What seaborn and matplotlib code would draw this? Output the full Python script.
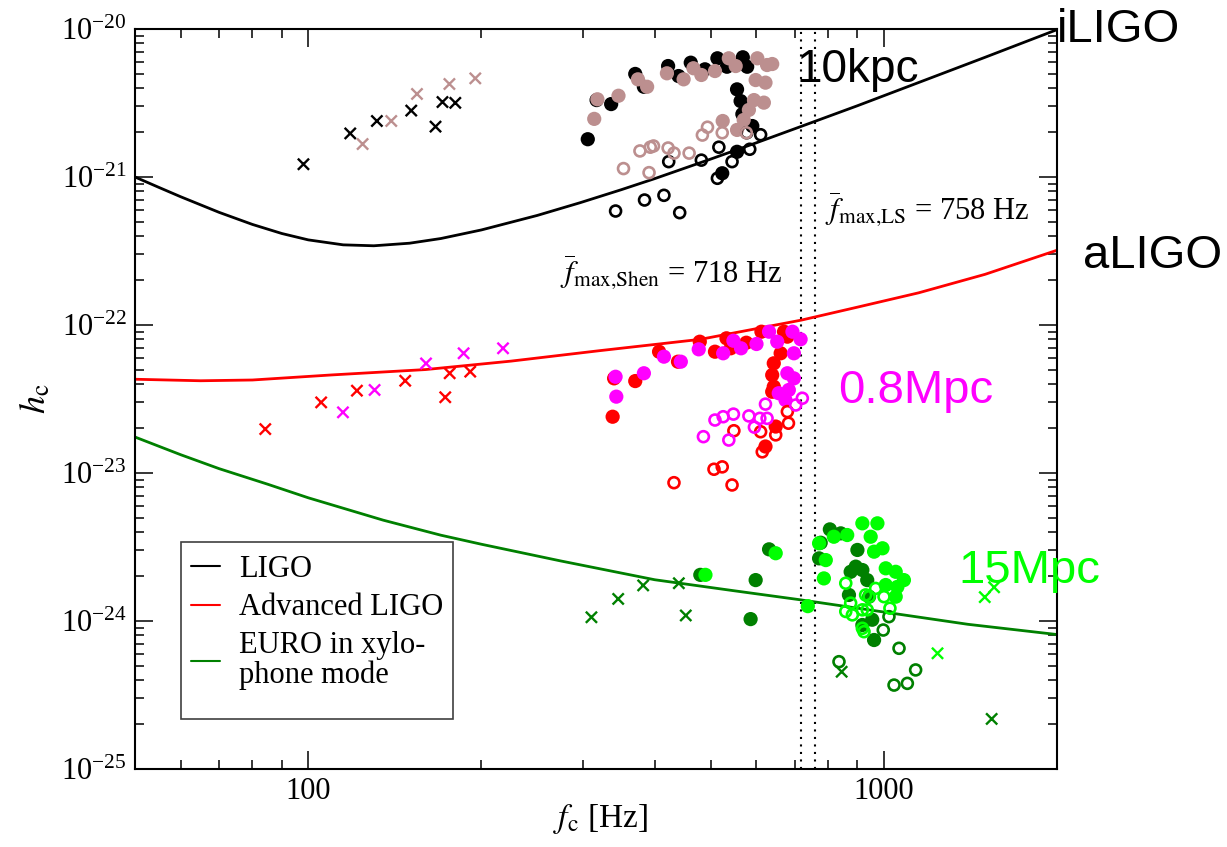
import matplotlib
matplotlib.use("Agg")
import matplotlib.pyplot as plt
from matplotlib.lines import Line2D
from matplotlib.patches import Rectangle
from matplotlib import ticker
import pandas as pd
import seaborn as sns

# ---------------------------------------------------------------------------
# Detector sensitivity curves: characteristic strain h_c versus frequency [Hz]
# ---------------------------------------------------------------------------
ligo_f = [50, 55, 60, 70, 80, 90, 100, 115, 130, 150, 170, 200, 250, 297, 350,
          400, 500, 600, 717, 900, 1150, 1500, 2000]
ligo_h = [1.0e-21, 8.51e-22, 7.36e-22, 5.77e-22, 4.78e-22, 4.15e-22, 3.76e-22,
          3.48e-22, 3.43e-22, 3.57e-22, 3.84e-22, 4.39e-22, 5.50e-22, 6.71e-22,
          8.21e-22, 9.75e-22, 1.32e-21, 1.70e-21, 2.19e-21, 3.03e-21, 4.35e-21,
          6.44e-21, 9.9e-21]

aligo_f = [50, 65, 80, 110, 160, 225, 320, 480, 720, 900, 1150, 1500, 2000]
aligo_h = [4.3e-23, 4.2e-23, 4.25e-23, 4.6e-23, 5.0e-23, 5.7e-23, 6.7e-23,
           8.0e-23, 1.08e-22, 1.32e-22, 1.65e-22, 2.2e-22, 3.2e-22]

euro_f = [50, 60, 70, 85, 100, 135, 170, 200, 274, 400, 550, 717, 1000, 1400, 2000]
euro_h = [1.75e-23, 1.33e-23, 1.07e-23, 8.4e-24, 6.8e-24, 4.8e-24, 3.8e-24, 3.3e-24,
          2.55e-24, 1.9e-24, 1.6e-24, 1.39e-24, 1.15e-24, 9.5e-25, 8.1e-25]

detector_labels = ["LIGO", "Advanced LIGO", "EURO in xylo-\nphone mode"]

# Maximum frequencies of the two equations of state
fmax_shen = 718
fmax_ls = 758

# ---------------------------------------------------------------------------
# Signals: (f_c [Hz], h_c) for two models (a, b) at three distances.
# "disk" = filled circles, "ring" = open circles, "cross" = crosses
# ---------------------------------------------------------------------------
k10_a_disk = [(306, 1.80e-21), (317, 3.31e-21), (336, 3.11e-21), (370, 4.97e-21),
              (383, 4.07e-21), (422, 5.62e-21), (440, 4.81e-21), (462, 5.92e-21),
              (489, 5.34e-21), (514, 6.34e-21), (534, 5.56e-21), (569, 6.44e-21),
              (579, 5.56e-21), (556, 3.91e-21), (564, 3.26e-21), (568, 2.66e-21),
              (591, 2.21e-21), (524, 1.06e-21), (556, 1.48e-21)]
k10_b_disk = [(314, 2.47e-21), (318, 3.35e-21), (346, 3.54e-21), (374, 4.57e-21),
              (388, 4.07e-21), (420, 5.02e-21), (449, 4.57e-21), (467, 5.43e-21),
              (482, 4.89e-21), (509, 5.20e-21), (538, 6.34e-21), (553, 5.62e-21),
              (603, 6.34e-21), (627, 5.71e-21), (599, 4.52e-21), (623, 4.34e-21),
              (595, 3.31e-21), (619, 3.18e-21), (583, 2.84e-21), (571, 2.43e-21),
              (556, 2.08e-21), (525, 2.39e-21), (640, 5.80e-21)]
k10_a_ring = [(342, 5.89e-22), (384, 6.99e-22), (415, 7.52e-22), (442, 5.74e-22),
              (423, 1.27e-21), (482, 1.30e-21), (517, 1.59e-21), (545, 1.27e-21),
              (514, 9.80e-22), (585, 1.54e-21), (611, 1.93e-21), (578, 1.99e-21)]
k10_b_ring = [(353, 1.14e-21), (377, 1.50e-21), (391, 1.07e-21), (393, 1.59e-21),
              (398, 1.62e-21), (422, 1.57e-21), (432, 1.45e-21), (459, 1.45e-21),
              (484, 1.92e-21), (494, 2.17e-21), (524, 1.99e-21), (577, 1.99e-21)]
k10_a_cross = [(98.1, 1.22e-21), (118.3, 1.97e-21), (131.6, 2.39e-21), (151.0, 2.81e-21),
               (166.4, 2.19e-21), (171.1, 3.21e-21), (180.1, 3.17e-21)]
k10_b_cross = [(124.3, 1.67e-21), (139.4, 2.39e-21), (154.5, 3.64e-21),
               (175.9, 4.25e-21), (195.1, 4.64e-21)]

m08_a_disk = [(338, 2.40e-23), (340, 4.36e-23), (370, 4.18e-23), (407, 6.60e-23),
              (439, 5.65e-23), (479, 7.71e-23), (509, 6.60e-23), (533, 8.13e-23),
              (542, 6.96e-23), (577, 7.59e-23), (613, 9.01e-23), (671, 9.01e-23),
              (644, 5.51e-23), (640, 4.59e-23), (644, 3.83e-23), (640, 3.54e-23),
              (662, 6.44e-23), (649, 2.06e-23), (623, 1.51e-23), (680, 8.34e-23)]
m08_b_disk = [(342, 4.47e-23), (343, 3.28e-23), (383, 4.72e-23), (415, 6.11e-23),
              (444, 5.65e-23), (477, 6.85e-23), (526, 6.44e-23), (548, 7.83e-23),
              (565, 6.96e-23), (601, 7.44e-23), (632, 9.01e-23), (653, 7.71e-23),
              (694, 9.01e-23), (698, 6.44e-23), (680, 4.72e-23), (698, 4.36e-23),
              (684, 3.64e-23), (657, 3.46e-23), (675, 3.11e-23), (717, 8.01e-23)]
m08_a_ring = [(432, 8.60e-24), (507, 1.06e-23), (524, 1.10e-23), (545, 8.30e-24),
              (549, 1.93e-23), (611, 1.90e-23), (649, 1.81e-23), (683, 2.17e-23),
              (680, 2.60e-23), (615, 1.39e-23)]
m08_b_ring = [(486, 1.76e-23), (509, 2.28e-23), (526, 2.40e-23), (548, 2.50e-23),
              (538, 1.67e-23), (583, 2.43e-23), (596, 2.04e-23), (609, 2.34e-23),
              (627, 2.34e-23), (623, 2.92e-23), (703, 2.88e-23), (722, 3.20e-23)]
m08_a_cross = [(84.2, 1.98e-23), (105.3, 3.0e-23), (121.5, 3.6e-23), (147.4, 4.2e-23),
               (173.0, 3.25e-23), (176.1, 4.72e-23), (191.2, 4.84e-23)]
m08_b_cross = [(114.9, 2.57e-23), (130.4, 3.64e-23), (160.2, 5.5e-23),
               (186.2, 6.44e-23), (218.0, 6.96e-23)]

m15_a_disk = [(587, 1.03e-24), (599, 1.89e-24), (632, 3.05e-24), (480, 2.05e-24),
              (772, 2.65e-24), (777, 3.38e-24), (806, 4.16e-24), (842, 3.91e-24),
              (900, 3.02e-24), (894, 2.33e-24), (876, 2.15e-24), (918, 2.21e-24),
              (936, 1.89e-24), (870, 1.50e-24), (943, 1.46e-24), (955, 1.02e-24),
              (962, 7.44e-25), (918, 9.40e-25)]
m15_b_disk = [(490, 2.05e-24), (649, 2.87e-24), (738, 1.26e-24), (787, 1.94e-24),
              (793, 2.58e-24), (772, 3.35e-24), (819, 3.71e-24), (864, 3.81e-24),
              (918, 4.57e-24), (975, 4.57e-24), (949, 3.71e-24), (995, 3.10e-24),
              (962, 2.94e-24), (1008, 2.27e-24), (1049, 2.15e-24), (1084, 1.89e-24),
              (1008, 1.75e-24), (1049, 1.46e-24), (1056, 1.70e-24)]
m15_a_ring = [(836, 5.31e-25), (998, 8.69e-25), (1063, 6.54e-25), (1136, 4.67e-25),
              (1099, 3.79e-25), (1042, 3.69e-25), (1021, 1.07e-24)]
m15_b_ring = [(859, 1.80e-24), (930, 1.50e-24), (943, 1.46e-24), (968, 1.66e-24),
              (1001, 1.46e-24), (1025, 1.22e-24), (859, 1.16e-24), (882, 1.10e-24),
              (876, 1.32e-24), (918, 1.19e-24), (936, 1.19e-24), (924, 8.47e-25),
              (918, 8.93e-25)]
m15_a_cross = [(310.5, 1.06e-24), (345.6, 1.41e-24), (381.9, 1.74e-24), (440.5, 1.80e-24),
               (452.9, 1.09e-24), (845, 4.54e-25), (1540, 2.18e-25)]
m15_b_cross = [(1240, 6.05e-25), (1498, 1.45e-24), (1555, 1.69e-24)]

series_colors = {
    "10kpc a": "#000000", "10kpc b": "#bc8f8f",
    "0.8Mpc a": "#ff0000", "0.8Mpc b": "#ff00ff",
    "15Mpc a": "#008000", "15Mpc b": "#00ff00",
}
groups = {
    ("10kpc a", "disk"): k10_a_disk, ("10kpc b", "disk"): k10_b_disk,
    ("10kpc a", "ring"): k10_a_ring, ("10kpc b", "ring"): k10_b_ring,
    ("10kpc a", "cross"): k10_a_cross, ("10kpc b", "cross"): k10_b_cross,
    ("0.8Mpc a", "disk"): m08_a_disk, ("0.8Mpc b", "disk"): m08_b_disk,
    ("0.8Mpc a", "ring"): m08_a_ring, ("0.8Mpc b", "ring"): m08_b_ring,
    ("0.8Mpc a", "cross"): m08_a_cross, ("0.8Mpc b", "cross"): m08_b_cross,
    ("15Mpc a", "disk"): m15_a_disk, ("15Mpc b", "disk"): m15_b_disk,
    ("15Mpc a", "ring"): m15_a_ring, ("15Mpc b", "ring"): m15_b_ring,
    ("15Mpc a", "cross"): m15_a_cross, ("15Mpc b", "cross"): m15_b_cross,
}

rows = []
for (series, kind), pts in groups.items():
    for f, h in pts:
        rows.append({"series": series, "kind": kind, "f": f, "h": h})
signals = pd.DataFrame(rows)

curves = pd.concat([
    pd.DataFrame({"detector": detector_labels[0], "f": ligo_f, "h": ligo_h}),
    pd.DataFrame({"detector": detector_labels[1], "f": aligo_f, "h": aligo_h}),
    pd.DataFrame({"detector": detector_labels[2], "f": euro_f, "h": euro_h}),
], ignore_index=True)
curve_colors = dict(zip(detector_labels, ["#000000", "#ff0000", "#008000"]))

# ---------------------------------------------------------------------------
# Style
# ---------------------------------------------------------------------------
sns.set_style("ticks")
plt.rcParams["font.family"] = ["Liberation Serif", "DejaVu Serif"]
plt.rcParams["mathtext.fontset"] = "stix"
plt.rcParams["axes.linewidth"] = 1.5
plt.rcParams["axes.edgecolor"] = "black"
plt.rcParams["text.color"] = "black"
plt.rcParams["axes.labelcolor"] = "black"
plt.rcParams["xtick.color"] = "black"
plt.rcParams["ytick.color"] = "black"

fig = plt.figure(figsize=(12.27, 8.47), dpi=100)
ax = fig.add_axes([135 / 1227, 1 - 769 / 847, 922 / 1227, 740 / 847])
ax.set_xscale("log")
ax.set_yscale("log")
ax.set_xlim(50, 2000)
ax.set_ylim(1e-25, 1e-20)

# sensitivity curves
sns.lineplot(data=curves, x="f", y="h", hue="detector", palette=curve_colors,
             sort=False, estimator=None, linewidth=2.0, legend=False, ax=ax, zorder=2)

# vertical markers of the maximum frequencies
for fm in (fmax_shen, fmax_ls):
    ax.axvline(fm, color="black", linestyle=(0, (1, 2.6)), linewidth=1.5, zorder=1)

# signal points: filled circles, then open circles, then crosses
disks = signals[signals["kind"] == "disk"]
sns.scatterplot(data=disks, x="f", y="h", hue="series", palette=series_colors,
                marker="o", s=105, linewidth=0, edgecolor="none", legend=False,
                ax=ax, zorder=3)
for series, color in series_colors.items():
    rings = signals[(signals["kind"] == "ring") & (signals["series"] == series)]
    sns.scatterplot(data=rings, x="f", y="h", marker="o", s=62, color=color,
                    facecolor="none", edgecolor=color, linewidth=1.9,
                    legend=False, ax=ax, zorder=3)
crosses = signals[signals["kind"] == "cross"]
sns.scatterplot(data=crosses, x="f", y="h", hue="series", palette=series_colors,
                marker="x", s=65, linewidth=1.7, legend=False, ax=ax, zorder=3)

# ---------------------------------------------------------------------------
# Axes, ticks
# ---------------------------------------------------------------------------
ax.set_xticks([100, 1000], ["100", "1000"])
ax.xaxis.set_minor_locator(ticker.LogLocator(base=10, subs=range(2, 10), numticks=20))
ax.xaxis.set_minor_formatter(ticker.NullFormatter())
yt = [1e-25, 1e-24, 1e-23, 1e-22, 1e-21, 1e-20]
ax.set_yticks(yt, [r"$\mathdefault{10^{-%d}}$" % n for n in (25, 24, 23, 22, 21, 20)])
ax.yaxis.set_minor_locator(ticker.LogLocator(base=10, subs=range(2, 10), numticks=20))
ax.yaxis.set_minor_formatter(ticker.NullFormatter())
ax.tick_params(which="both", direction="in", top=True, right=True, width=1.1,
               colors="black")
ax.tick_params(which="major", length=13, labelsize=22, pad=6)
ax.tick_params(which="minor", length=6.5)

ax.set_xlabel(r"$f_{\mathrm{c}}$ [Hz]", fontsize=24)
ax.xaxis.set_label_coords(0.505, -0.045)
ax.set_ylabel(r"$h_{\mathrm{c}}$", fontsize=26)
ax.yaxis.set_label_coords(-0.089, 0.50)

# ---------------------------------------------------------------------------
# Annotations
# ---------------------------------------------------------------------------
sans = ["Liberation Sans", "DejaVu Sans"]
ax.text(1.0, 0.982, "iLIGO", transform=ax.transAxes, fontsize=34, family=sans,
        va="baseline", ha="left", clip_on=False)
ax.text(1.028, 0.677, "aLIGO", transform=ax.transAxes, fontsize=34, family=sans,
        va="baseline", ha="left", clip_on=False)
ax.text(0.718, 0.928, "10kpc", transform=ax.transAxes, fontsize=33, family=sans,
        va="baseline", ha="left")
ax.text(0.7625, 0.4946, "0.8Mpc", transform=ax.transAxes, fontsize=34, family=sans,
        color="#ff00ff", va="baseline", ha="left")
ax.text(0.8926, 0.251, "15Mpc", transform=ax.transAxes, fontsize=34, family=sans,
        color="#00ff00", va="baseline", ha="left", clip_on=False)

ax.text(0.7484, 0.7419, r"$\overline{f}_{\mathrm{max{,}LS}}$ = %d Hz" % fmax_ls,
        transform=ax.transAxes, fontsize=22, va="baseline", ha="left")
ax.text(0.4610, 0.657, r"$\overline{f}_{\mathrm{max{,}Shen}}$ = %d Hz" % fmax_shen,
        transform=ax.transAxes, fontsize=22, va="baseline", ha="left")

# legend for the detector curves, inside a plain rectangular frame
frame = Rectangle((0.0499, 0.0676), 0.2950, 0.2392, transform=ax.transAxes,
                  facecolor="white", edgecolor="#404040", linewidth=1.2, zorder=4)
ax.add_patch(frame)
handles = [Line2D([], [], color=curve_colors[d], linewidth=1.5) for d in detector_labels]
leg = ax.legend(handles, detector_labels, loc="upper left",
                bbox_to_anchor=(0.0607, 0.289), borderaxespad=0, borderpad=0,
                fontsize=22, frameon=False, handlelength=0.95, handletextpad=0.62,
                labelspacing=0.3)
leg.set_zorder(5)
leg.get_texts()[2].set_linespacing(1.0)

fig.savefig("out.png", dpi=100)
